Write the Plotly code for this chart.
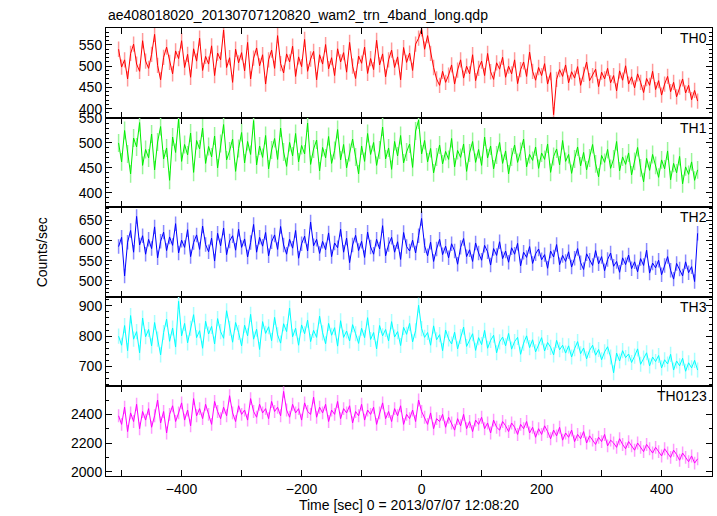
import numpy as np
import plotly.graph_objects as go
from plotly.subplots import make_subplots

# Time bins (sec from 2013/07/07 12:08:20)
t_start = -505
t_step = 5

th0 = [540, 498, 515, 470, 530, 552, 505, 488, 560, 512,
       495, 528, 575, 502, 468, 521, 545, 509, 482, 536,
       518, 560, 497, 528, 474, 541, 512, 566, 490, 523,
       505, 548, 478, 531, 515, 585, 497, 520, 462, 540,
       508, 532, 489, 556, 470, 519, 543, 501, 527, 458,
       515, 538, 495, 572, 506, 484, 529, 510, 547, 476,
       522, 499, 563, 488, 517, 535, 468, 527, 505, 551,
       494, 520, 478, 541, 510, 532, 486, 556, 500, 471,
       524, 507, 545, 483, 518, 492, 561, 503, 529, 475,
       515, 538, 497, 522, 468, 544, 509, 531, 490, 552,
       566, 588, 540, 572, 530, 497, 470, 455, 488, 462,
       479, 503, 458, 491, 515, 472, 500, 482, 527, 466,
       495, 512, 478, 530, 487, 469, 508, 493, 521, 474,
       500, 482, 515, 459, 492, 510, 476, 533, 488, 467,
       497, 478, 506, 458, 485, 386, 469, 492, 476, 503,
       461, 487, 472, 499, 455, 481, 510, 466, 478, 493,
       452, 486, 470, 495, 461, 478, 442, 489, 467, 501,
       458, 475, 449, 482, 462, 438, 471, 455, 488, 445,
       466, 432, 458, 476, 440, 462, 428, 451, 470, 437,
       455, 421, 443, 418]

th1 = [500, 462, 525, 478, 438, 510, 492, 541, 455, 487,
       470, 518, 446, 502, 533, 468, 490, 425, 512, 481,
       548, 463, 497, 476, 520, 441, 505, 488, 530, 459,
       493, 472, 514, 450, 499, 537, 466, 484, 508, 443,
       489, 521, 460, 503, 477, 545, 456, 494, 471, 515,
       448, 486, 509, 467, 530, 482, 453, 501, 474, 519,
       462, 495, 478, 540, 457, 488, 506, 444, 491, 470,
       513, 459, 485, 527, 466, 497, 450, 481, 508, 472,
       438, 494, 463, 519, 477, 501, 455, 486, 532, 468,
       490, 447, 503, 474, 515, 460, 482, 498, 451, 524,
       546, 478, 505, 462, 489, 440, 472, 496, 458, 483,
       467, 509, 452, 485, 471, 498, 443, 480, 503, 461,
       487, 455, 512, 470, 494, 448, 476, 501, 459, 484,
       438, 472, 496, 461, 483, 508, 452, 477, 465, 492,
       449, 480, 467, 498, 441, 473, 488, 456, 505, 463,
       477, 439, 468, 492, 454, 481, 446, 470, 497, 458,
       432, 475, 461, 487, 449, 468, 503, 444, 472, 457,
       480, 436, 463, 491, 450, 422, 469, 445, 477, 455,
       431, 466, 448, 484, 426, 459, 440, 473, 418, 452,
       437, 462, 425, 446]

th2 = [585, 608, 512, 596, 625, 571, 660, 589, 612, 566,
       603, 580, 634, 557, 598, 621, 575, 609, 588, 642,
       569, 601, 583, 627, 560, 595, 614, 578, 636, 590,
       572, 606, 549, 618, 587, 631, 565, 599, 612, 576,
       628, 583, 604, 559, 595, 640, 571, 608, 586, 620,
       562, 597, 614, 578, 635, 589, 566, 603, 581, 625,
       556, 592, 611, 574, 646, 587, 603, 568, 598, 577,
       619, 560, 594, 582, 628, 571, 606, 545, 589, 613,
       575, 598, 558, 621, 584, 566, 603, 579, 637, 562,
       590, 608, 571, 597, 553, 620, 585, 574, 601, 569,
       612, 655, 587, 562, 596, 548, 579, 603, 565, 586,
       557, 592, 574, 541, 583, 605, 560, 577, 548, 594,
       569, 551, 588, 572, 539, 580, 563, 597, 555, 574,
       546, 582, 566, 593, 537, 571, 558, 585, 543, 567,
       579, 552, 565, 531, 574, 559, 590, 540, 563, 548,
       572, 534, 556, 580, 545, 528, 567, 551, 538, 575,
       542, 560, 525, 553, 569, 536, 548, 521, 557, 540,
       564, 530, 547, 522, 555, 538, 576, 519, 544, 532,
       551, 515, 538, 560, 526, 504, 543, 529, 512, 547,
       520, 535, 498, 618]

th3 = [800, 770, 835, 752, 868, 790, 815, 745, 860, 798,
       822, 768, 845, 790, 738, 812, 856, 783, 827, 764,
       915, 801, 842, 778, 826, 871, 795, 818, 760, 849,
       807, 832, 774, 858, 815, 793, 884, 826, 780, 845,
       812, 768, 836, 801, 872, 790, 823, 756, 848, 809,
       831, 785, 862, 804, 777, 841, 815, 893, 798, 826,
       770, 837, 808, 853, 782, 819, 796, 866, 811, 775,
       842, 803, 828, 767, 851, 796, 817, 784, 838, 808,
       776, 826, 795, 861, 789, 812, 758, 835, 801, 822,
       784, 848, 797, 815, 769, 829, 806, 842, 781, 818,
       902, 825, 796, 812, 770, 834, 788, 805, 752, 820,
       791, 774, 813, 758, 799, 830, 766, 787, 808, 753,
       795, 772, 819, 760, 786, 803, 745, 781, 797, 768,
       809, 757, 782, 796, 740, 777, 801, 762, 788, 748,
       774, 795, 751, 779, 763, 738, 786, 755, 770, 744,
       768, 731, 759, 782, 742, 761, 725, 753, 770, 737,
       756, 722, 748, 765, 731, 679, 744, 718, 752, 729,
       741, 713, 734, 758, 707, 728, 745, 702, 731, 716,
       736, 695, 722, 708, 740, 688, 718, 702, 727, 684,
       712, 695, 720, 688]

th0123 = [2390, 2330, 2450, 2280, 2410, 2350, 2470, 2300, 2420, 2360,
          2440, 2310, 2390, 2500, 2340, 2420, 2270, 2400, 2460, 2350,
          2410, 2480, 2360, 2430, 2320, 2510, 2390, 2440, 2370, 2470,
          2400, 2330, 2490, 2420, 2370, 2450, 2390, 2530, 2410, 2350,
          2460, 2400, 2430, 2360, 2510, 2420, 2380, 2470, 2410, 2440,
          2370, 2490, 2420, 2450, 2390, 2560, 2430, 2380, 2470, 2410,
          2440, 2360, 2480, 2420, 2400, 2520, 2380, 2450, 2410, 2470,
          2350, 2430, 2400, 2490, 2370, 2440, 2410, 2460, 2340, 2420,
          2390, 2470, 2360, 2430, 2400, 2450, 2330, 2410, 2480, 2370,
          2420, 2350, 2440, 2390, 2460, 2330, 2400, 2370, 2430, 2350,
          2500, 2420, 2380, 2330, 2410, 2300, 2370, 2350, 2400, 2310,
          2380, 2340, 2290, 2370, 2320, 2400, 2300, 2350, 2280, 2360,
          2330, 2380, 2300, 2340, 2270, 2360, 2310, 2290, 2350, 2320,
          2280, 2340, 2310, 2260, 2330, 2300, 2350, 2270, 2310, 2240,
          2300, 2260, 2320, 2280, 2230, 2290, 2250, 2310, 2220, 2270,
          2240, 2290, 2210, 2260, 2230, 2280, 2200, 2250, 2220, 2190,
          2240, 2210, 2260, 2180, 2220, 2200, 2170, 2230, 2190, 2160,
          2210, 2180, 2150, 2200, 2170, 2140, 2190, 2160, 2130, 2170,
          2140, 2110, 2160, 2130, 2100, 2150, 2120, 2080, 2130, 2100,
          2070, 2110, 2060, 2090]

band_names = ["TH0", "TH1", "TH2", "TH3", "TH0123"]
band_errors = [18, 18, 18, 25, 45]

series = [th0, th1, th2, th3, th0123]
line_colors = ["#ff0000", "#00ee00", "#0000ff", "#00ffff", "#ff00ff"]
err_colors = ["#ff9a9a", "#9af59a", "#8a8aff", "#a8ffff", "#ff9aff"]
y_ranges = [[379, 590], [371, 551], [460, 683], [634, 930], [1970, 2595]]
y_dticks = [50, 50, 50, 100, 200]
y_minor = [10, 10, 10, 20, 100]

fig = make_subplots(rows=5, cols=1, shared_xaxes=True, vertical_spacing=0)

for i, vals in enumerate(series):
    t = t_start + t_step * np.arange(len(vals))
    fig.add_trace(go.Scatter(
        x=t, y=vals, mode="lines",
        line=dict(color=line_colors[i], width=1),
        error_y=dict(type="constant", value=band_errors[i], color=err_colors[i],
                     thickness=1.5, width=0),
        showlegend=False, hoverinfo="skip"),
        row=i + 1, col=1)

font_family = "Liberation Sans, Arial, Helvetica, sans-serif"

for i in range(5):
    fig.update_yaxes(row=i + 1, col=1, range=y_ranges[i], dtick=y_dticks[i], tick0=0,
                     showline=True, linecolor="black", linewidth=1, mirror="ticks",
                     ticks="inside", ticklen=6, tickcolor="black",
                     minor=dict(dtick=y_minor[i], ticks="inside", ticklen=3, tickcolor="black"),
                     showgrid=False, zeroline=False,
                     tickfont=dict(size=14, color="black", family=font_family))
    fig.update_xaxes(row=i + 1, col=1, range=[-526, 484], dtick=200, tick0=0,
                     showline=True, linecolor="black", linewidth=1, mirror="ticks",
                     ticks="inside", ticklen=6, tickcolor="black",
                     minor=dict(dtick=100, ticks="inside", ticklen=6, tickcolor="black"),
                     showgrid=False, zeroline=False, showticklabels=(i == 4),
                     tickfont=dict(size=14, color="black", family=font_family))

fig.update_xaxes(row=5, col=1, title=dict(text="Time [sec] 0 = 2013/07/07 12:08:20",
                                         font=dict(size=14, color="black", family=font_family),
                                         standoff=2))

annotations = []
for i, name in enumerate(band_names):
    yref = "y domain" if i == 0 else f"y{i + 1} domain"
    annotations.append(dict(text=name, xref="x domain", yref=yref, x=0.995, y=1.0,
                            xanchor="right", yanchor="top", showarrow=False,
                            font=dict(size=14, color="black", family=font_family)))
annotations.append(dict(text="Counts/sec", xref="paper", yref="paper", x=-0.105, y=0.5,
                        textangle=-90, showarrow=False, xanchor="center", yanchor="middle",
                        font=dict(size=14, color="black", family=font_family)))
annotations.append(dict(text="ae408018020_20130707120820_wam2_trn_4band_long.qdp",
                        xref="paper", yref="paper", x=0, y=1.0, yshift=3,
                        xanchor="left", yanchor="bottom", showarrow=False,
                        font=dict(size=14, color="black", family=font_family)))

fig.update_layout(width=717, height=516, margin=dict(l=106, r=5, t=28, b=40),
                  paper_bgcolor="white", plot_bgcolor="white",
                  annotations=annotations, font=dict(family=font_family))

fig.write_html("out.html", config={"displayModeBar": False},
               post_script="document.body.style.margin='0';document.body.style.overflow='hidden';")
